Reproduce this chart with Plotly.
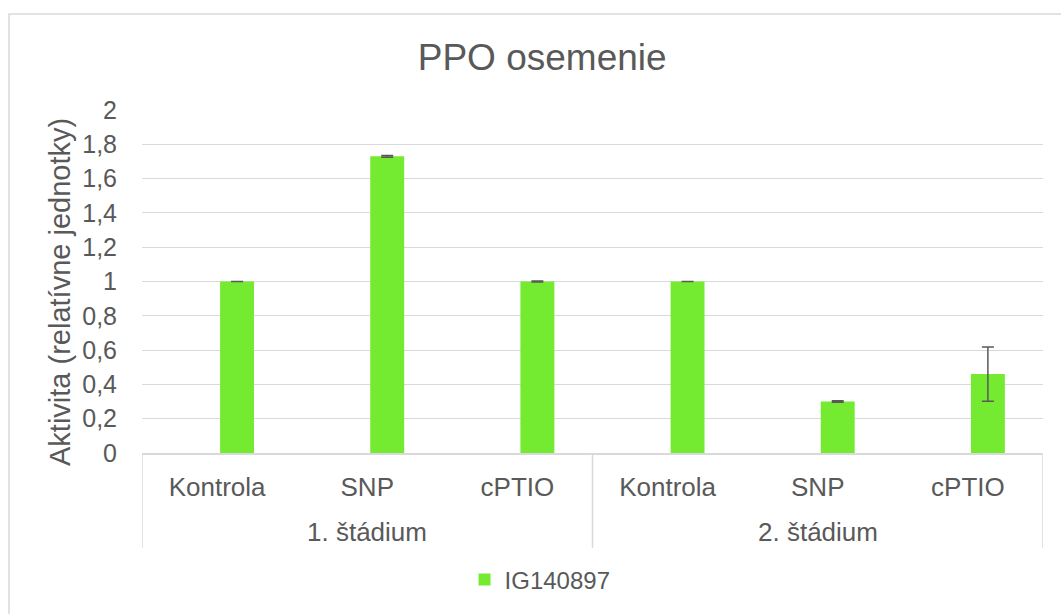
import plotly.graph_objects as go

groups = ["1. štádium", "1. štádium", "1. štádium", "2. štádium", "2. štádium", "2. štádium"]
treatments = ["Kontrola", "SNP", "cPTIO", "Kontrola", "SNP", "cPTIO"]
values = [1.0, 1.73, 1.0, 1.0, 0.30, 0.46]
errors = [0.0, 0.005, 0.003, 0.0, 0.004, 0.158]
series_name = "IG140897"
title_text = "PPO osemenie"
y_title = "Aktivita (relatívne jednotky)"
y_ticks = [0, 0.2, 0.4, 0.6, 0.8, 1, 1.2, 1.4, 1.6, 1.8, 2]
y_ticklabels = ["0", "0,2", "0,4", "0,6", "0,8", "1", "1,2", "1,4", "1,6", "1,8", "2"]

FONT = "Liberation Sans"
GRAY = "#595959"
LINE = "#d9d9d9"

# positions of categories on the axis and group boundaries/centres derived from the data
pos = list(range(len(treatments)))
group_names = []
group_members = {}
for i, g in enumerate(groups):
    if g not in group_members:
        group_names.append(g)
        group_members[g] = []
    group_members[g].append(i)
boundaries = [-0.5] + [max(group_members[g]) + 0.5 for g in group_names]
centres = [sum(group_members[g]) / len(group_members[g]) for g in group_names]

fig = go.Figure()
fig.add_trace(go.Bar(
    x=pos,
    y=values,
    name=series_name,
    width=0.226, offset=0.02,
    marker=dict(color="#74EB31", line=dict(width=0)),
    error_y=dict(type="data", array=errors, visible=True, color=GRAY, thickness=1.5, width=6),
    showlegend=True,
))

y_div = (453 - 548) / 343
shapes = [dict(type="line", xref="x", yref="paper", x0=b, x1=b, y0=0, y1=y_div,
               line=dict(color=LINE, width=1.5)) for b in boundaries]
shapes.append(dict(type="rect", xref="paper", yref="paper",
                   x0=(9 - 142) / 901, x1=1.1, y0=-0.6, y1=(453 - 14) / 343,
                   line=dict(color=LINE, width=1.5), fillcolor="rgba(0,0,0,0)", layer="below"))

annotations = [dict(text=g, x=c, xref="x", y=(453 - 532) / 343, yref="paper",
                    xanchor="center", yanchor="middle", showarrow=False,
                    font=dict(family=FONT, size=26, color=GRAY))
               for g, c in zip(group_names, centres)]
annotations.append(dict(text=y_title, textangle=-90, x=(60 - 142) / 901, xref="paper",
                        y=(453 - 292) / 343, yref="paper", xanchor="center", yanchor="middle",
                        showarrow=False, font=dict(family=FONT, size=29, color=GRAY)))

fig.update_layout(
    width=1061, height=614,
    margin=dict(l=142, r=18, t=110, b=161),
    paper_bgcolor="white", plot_bgcolor="white",
    font=dict(family=FONT, color=GRAY, size=25),
    title=dict(text=title_text, x=0.511, xref="container", xanchor="center",
               y=1 - 57 / 614, yref="container", yanchor="middle",
               font=dict(family=FONT, size=37, color=GRAY)),
    showlegend=True,
    legend=dict(orientation="h", x=0.358, xanchor="left", y=-0.37, yanchor="middle",
                font=dict(family=FONT, size=24, color=GRAY), itemwidth=30),
    xaxis=dict(range=[-0.5, len(treatments) - 0.5], tickvals=pos, ticktext=treatments,
               showline=True, linecolor=LINE, linewidth=1.5, showgrid=False, zeroline=False,
               tickfont=dict(family=FONT, size=26, color=GRAY), ticks="",
               ticklabelstandoff=10),
    yaxis=dict(range=[0, 2], tickvals=y_ticks, ticktext=y_ticklabels,
               showgrid=True, gridcolor=LINE, gridwidth=1, zeroline=False,
               showline=False, ticks="", ticklabelstandoff=24,
               tickfont=dict(family=FONT, size=25, color=GRAY)),
    shapes=shapes,
    annotations=annotations,
)

fig.write_html("out.html", config={"displayModeBar": False},
               post_script="document.body.style.margin='0';")
